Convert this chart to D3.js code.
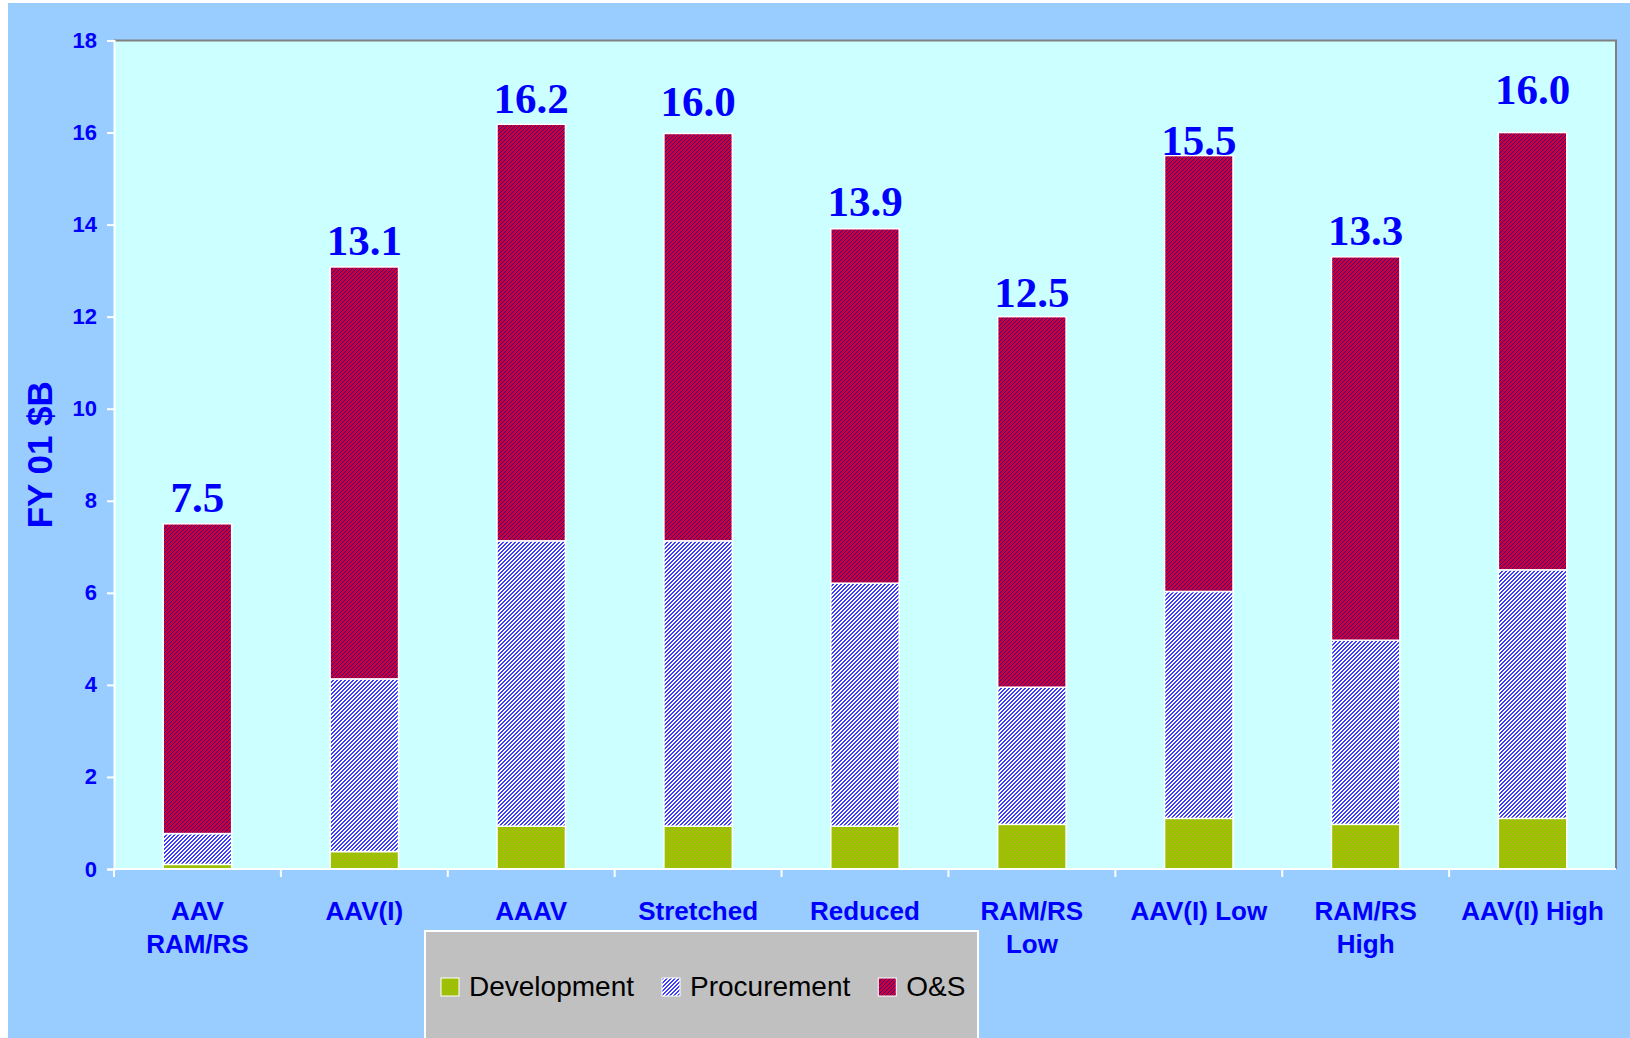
<!DOCTYPE html>
<html>
<head>
<meta charset="utf-8">
<script src="https://cdnjs.cloudflare.com/ajax/libs/d3/7.8.5/d3.min.js"></script>
<style>
  body { margin: 0; background: #ffffff; }
  svg { display: block; }
</style>
</head>
<body>
<div id="chart"></div>
<script>
// data (FY 01 $B)
var categories = ["AAV\nRAM/RS", "AAV(I)", "AAAV", "Stretched", "Reduced", "RAM/RS\nLow", "AAV(I) Low", "RAM/RS\nHigh", "AAV(I) High"];
var development = [0.1, 0.38, 0.93, 0.93, 0.93, 0.97, 1.1, 0.97, 1.1];
var procurement = [0.67, 3.75, 6.2, 6.2, 5.28, 2.98, 4.93, 4.0, 5.4];
var oands = [6.73, 8.95, 9.05, 8.85, 7.7, 8.05, 9.47, 8.33, 9.5];
var totalLabels = ["7.5", "13.1", "16.2", "16.0", "13.9", "12.5", "15.5", "13.3", "16.0"];
var labelAt = [7.76, 13.35, 16.43, 16.36, 14.19, 12.22, 15.51, 13.56, 16.61];
var yTicks = [0, 2, 4, 6, 8, 10, 12, 14, 16, 18];
var seriesNames = ["Development", "Procurement", "O&S"];

var width = 1630, height = 1038;
// note: "top" is taken by window.top, so plot edges get their own names
var plotL = 114, plotR = 1616, plotT = 40.5, plotB = 869;
var blue = "#0000ff";

var svg = d3.select("#chart").append("svg").attr("width", width).attr("height", height);

// fill patterns like the old office hatches
var defs = svg.append("defs");
var pDev = defs.append("pattern").attr("id", "pDev").attr("patternUnits", "userSpaceOnUse").attr("width", 4).attr("height", 4);
pDev.append("rect").attr("width", 4).attr("height", 4).attr("fill", "#99c400");
pDev.append("rect").attr("x", 0).attr("y", 0).attr("width", 1).attr("height", 1).attr("fill", "#c89a30");
pDev.append("rect").attr("x", 2).attr("y", 2).attr("width", 1).attr("height", 1).attr("fill", "#c89a30");

var pProc = defs.append("pattern").attr("id", "pProc").attr("patternUnits", "userSpaceOnUse").attr("width", 4).attr("height", 4);
pProc.append("rect").attr("width", 4).attr("height", 4).attr("fill", "#ffffff");
var pOs = defs.append("pattern").attr("id", "pOs").attr("patternUnits", "userSpaceOnUse").attr("width", 4).attr("height", 4);
pOs.append("rect").attr("width", 4).attr("height", 4).attr("fill", "#cc0033");
for (var px = 0; px < 4; px++) {
    for (var py = 0; py < 4; py++) {
        if ((px + py) % 4 == 0 || (px + py) % 4 == 1) {
            pProc.append("rect").attr("x", px).attr("y", py).attr("width", 1).attr("height", 1).attr("fill", "#3d3dff");
        }
        if ((px + py) % 4 == 0) {
            pOs.append("rect").attr("x", px).attr("y", py).attr("width", 1).attr("height", 1).attr("fill", "#330099");
        }
    }
}
var fills = ["url(#pDev)", "url(#pProc)", "url(#pOs)"];

// backgrounds
svg.append("rect").attr("x", 8).attr("y", 3).attr("width", width - 8).attr("height", height - 3).attr("fill", "#99ccff");
svg.append("rect").attr("x", plotL).attr("y", plotT).attr("width", plotR - plotL).attr("height", plotB - plotT).attr("fill", "#ccffff");
svg.append("path").attr("d", "M" + plotL + "," + plotT + "H" + plotR + "V" + plotB)
    .attr("fill", "none").attr("stroke", "#808080").attr("stroke-width", 2);

var x = d3.scaleBand().domain(categories).range([plotL, plotR]).padding(0);
var y = d3.scaleLinear().domain([0, 18]).range([plotB, plotT]);
var barW = x.bandwidth() * 0.41;

var stackData = categories.map(function(c, i) {
    return { cat: c, Development: development[i], Procurement: procurement[i], "O&S": oands[i] };
});
var stacked = d3.stack().keys(seriesNames)(stackData);

svg.selectAll("g.series")
    .data(stacked)
    .enter()
    .append("g")
    .attr("class", "series")
    .attr("fill", function(d, i) { return fills[i]; })
    .selectAll("rect")
    .data(function(d) { return d; })
    .enter()
    .append("rect")
    .attr("x", function(d) { return x(d.data.cat) + (x.bandwidth() - barW) / 2; })
    .attr("y", function(d) { return y(d[1]); })
    .attr("width", barW)
    .attr("height", function(d) { return y(d[0]) - y(d[1]); })
    .attr("stroke", "#ffffff")
    .attr("stroke-width", 1.5);

// total labels
svg.selectAll("text.total")
    .data(totalLabels)
    .enter()
    .append("text")
    .attr("class", "total")
    .attr("x", function(d, i) { return x(categories[i]) + x.bandwidth() / 2; })
    .attr("y", function(d, i) { return y(labelAt[i]); })
    .attr("text-anchor", "middle")
    .attr("font-family", "'Liberation Serif', 'Times New Roman', serif")
    .attr("font-weight", "bold")
    .attr("font-size", "43px")
    .attr("fill", blue)
    .text(function(d) { return d; });

// y axis
var yAxis = svg.append("g").attr("transform", "translate(" + plotL + ",0)")
    .call(d3.axisLeft(y).tickValues(yTicks).tickSize(7).tickPadding(10));
yAxis.select(".domain").attr("stroke", "#ffffff").attr("stroke-width", 2);
yAxis.selectAll(".tick line").attr("stroke", "#ffffff").attr("stroke-width", 2);
yAxis.selectAll(".tick text")
    .attr("fill", blue)
    .attr("font-family", "'Liberation Sans', Arial, sans-serif")
    .attr("font-weight", "bold")
    .attr("font-size", "22px");

// x axis: ticks between categories
svg.append("line").attr("x1", plotL).attr("x2", plotR).attr("y1", plotB).attr("y2", plotB)
    .attr("stroke", "#ffffff").attr("stroke-width", 2);
var bounds = categories.map(function(c) { return x(c); });
svg.selectAll("line.xtick")
    .data(bounds)
    .enter()
    .append("line")
    .attr("class", "xtick")
    .attr("x1", function(d) { return d; })
    .attr("x2", function(d) { return d; })
    .attr("y1", plotB)
    .attr("y2", plotB + 8)
    .attr("stroke", "#ffffff")
    .attr("stroke-width", 2);

var xl = svg.selectAll("text.xlab")
    .data(categories)
    .enter()
    .append("text")
    .attr("class", "xlab")
    .attr("text-anchor", "middle")
    .attr("font-family", "'Liberation Sans', Arial, sans-serif")
    .attr("font-weight", "bold")
    .attr("font-size", "26px")
    .attr("fill", blue);
xl.selectAll("tspan")
    .data(function(d) { return d.split("\n").map(function(t) { return { t: t, c: d }; }); })
    .enter()
    .append("tspan")
    .attr("x", function(d) { return x(d.c) + x.bandwidth() / 2; })
    .attr("y", function(d, i) { return plotB + 51 + i * 33; })
    .text(function(d) { return d.t; });

// y title
svg.append("text")
    .attr("transform", "translate(52," + ((plotT + plotB) / 2) + ") rotate(-90)")
    .attr("text-anchor", "middle")
    .attr("font-family", "'Liberation Sans', Arial, sans-serif")
    .attr("font-weight", "bold")
    .attr("font-size", "35px")
    .attr("fill", blue)
    .text("FY 01 $B");

// legend
var legend = svg.append("g");
legend.append("rect").attr("x", 425).attr("y", 931).attr("width", 553).attr("height", 120)
    .attr("fill", "#c0c0c0").attr("stroke", "#ffffff").attr("stroke-width", 2);
var lx = 441;
seriesNames.forEach(function(name, i) {
    legend.append("rect").attr("x", lx).attr("y", 978).attr("width", 18).attr("height", 18)
        .attr("fill", fills[i]).attr("stroke", "#ffffff").attr("stroke-width", 1);
    var t = legend.append("text").attr("x", lx + 28).attr("y", 996)
        .attr("font-family", "'Liberation Sans', Arial, sans-serif")
        .attr("font-size", "28px")
        .attr("fill", "#000000")
        .text(name);
    lx = lx + 28 + t.node().getComputedTextLength() + 28;
});
</script>
</body>
</html>
